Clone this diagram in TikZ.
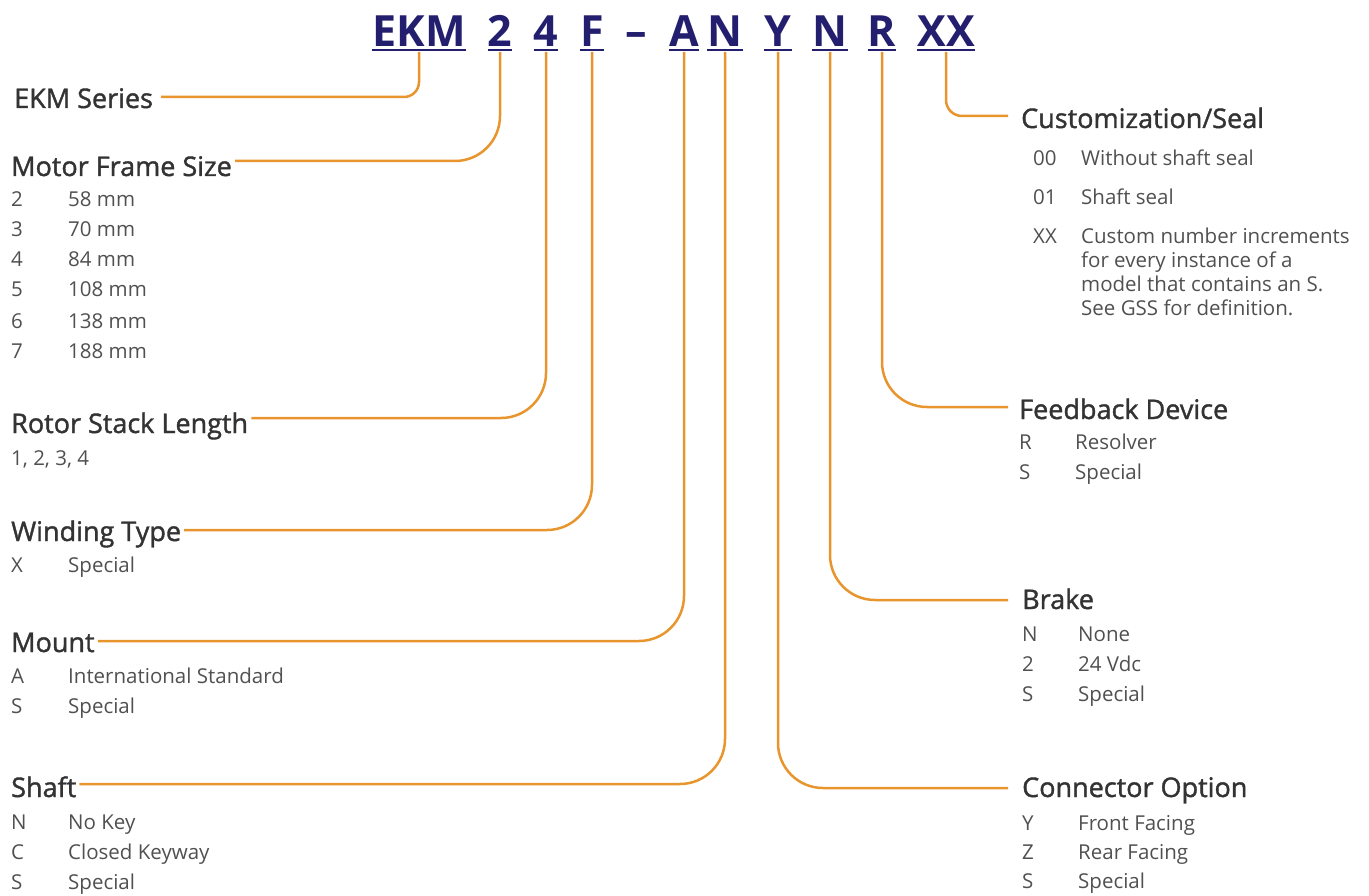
\documentclass[tikz,border=0pt]{standalone}
\usepackage{fontspec}
\setmainfont{Open Sans}
\newfontfamily\headfont[FakeBold=1.4]{Open Sans}
\definecolor{codeblue}{RGB}{35,31,110}
\definecolor{leadorange}{RGB}{232,149,46}
\definecolor{headgray}{RGB}{51,51,51}
\definecolor{itemgray}{RGB}{80,80,80}
\tikzset{
  code/.style={inner sep=0pt, anchor=base, text=codeblue,
    font=\fontsize{43}{43}\selectfont\bfseries},
  uline/.style={draw=codeblue, line width=2.5pt},
  head/.style={inner sep=0pt, anchor=base west, text=headgray,
    font=\fontsize{27}{27}\selectfont\headfont},
  item/.style={inner sep=0pt, anchor=base west, text=itemgray,
    font=\fontsize{20.5}{20.5}\selectfont},
  lead/.style={draw=leadorange, line width=2.5pt, rounded corners=45pt},
}

\begin{document}
\begin{tikzpicture}[x=1pt,y=-1pt]
\useasboundingbox (0,0) rectangle (1369,896);
% Code letters
\node[code] (cEKM) at (419,47) {EKM};
\node[code] (cTwo) at (500,47) {2};
\node[code] (cFour) at (546,47) {4};
\node[code] (cF) at (592,47) {F};
\node[code] (cDash) at (636,47) {–};
\node[code] (cA) at (684,47) {A};
\node[code] (cN) at (725,47) {N};
\node[code] (cY) at (778,47) {Y};
\node[code] (cNb) at (830,47) {N};
\node[code] (cR) at (882,47) {R};
\node[code] (cXX) at (946,47) {XX};
% Underlines
\draw[uline] ([yshift=-3pt]cEKM.base west) -- ([yshift=-3pt]cEKM.base east);
\draw[uline] ([yshift=-3pt]cTwo.base west) -- ([yshift=-3pt]cTwo.base east);
\draw[uline] ([yshift=-3pt]cFour.base west) -- ([yshift=-3pt]cFour.base east);
\draw[uline] ([yshift=-3pt]cF.base west) -- ([yshift=-3pt]cF.base east);
\draw[uline] ([yshift=-3pt]cA.base west) -- ([yshift=-3pt]cA.base east);
\draw[uline] ([yshift=-3pt]cN.base west) -- ([yshift=-3pt]cN.base east);
\draw[uline] ([yshift=-3pt]cY.base west) -- ([yshift=-3pt]cY.base east);
\draw[uline] ([yshift=-3pt]cNb.base west) -- ([yshift=-3pt]cNb.base east);
\draw[uline] ([yshift=-3pt]cR.base west) -- ([yshift=-3pt]cR.base east);
\draw[uline] ([yshift=-3pt]cXX.base west) -- ([yshift=-3pt]cXX.base east);

% Left headings
\node[head] (hSeries) at (14,108) {EKM Series};
\node[head] (hFrame) at (11,176) {Motor Frame Size};
\node[head] (hStack) at (11,433) {Rotor Stack Length};
\node[head] (hWinding) at (11,541) {Winding Type};
\node[head] (hMount) at (11,652) {Mount};
\node[head] (hShaft) at (11,797) {Shaft};
% Right headings
\node[head] (hSeal) at (1021,128) {Customization/Seal};
\node[head] (hFeedback) at (1019,419) {Feedback Device};
\node[head] (hBrake) at (1022,609) {Brake};
\node[head] (hConnector) at (1022,797) {Connector Option};

% Motor frame size
\node[item] (f2) at (11,207) {2};   \node[item] (f2t) at (68,207) {58 mm};
\node[item] (f3) at (11,237) {3};   \node[item] (f3t) at (68,237) {70 mm};
\node[item] (f4) at (11,267) {4};   \node[item] (f4t) at (68,267) {84 mm};
\node[item] (f5) at (11,297) {5};   \node[item] (f5t) at (68,297) {108 mm};
\node[item] (f6) at (11,328) {6};   \node[item] (f6t) at (68,328) {138 mm};
\node[item] (f7) at (11,358) {7};   \node[item] (f7t) at (68,358) {188 mm};
% Rotor stack length
\node[item] (s1) at (11,465) {1, 2, 3, 4};
% Winding type
\node[item] (wX) at (11,572) {X};   \node[item] (wXt) at (68,572) {Special};
% Mount
\node[item] (mA) at (11,683) {A};   \node[item] (mAt) at (68,683) {International Standard};
\node[item] (mS) at (11,713) {S};   \node[item] (mSt) at (68,713) {Special};
% Shaft
\node[item] (sN) at (11,829) {N};   \node[item] (sNt) at (68,829) {No Key};
\node[item] (sC) at (11,859) {C};   \node[item] (sCt) at (68,859) {Closed Keyway};
\node[item] (sS) at (11,889) {S};   \node[item] (sSt) at (68,889) {Special};

% Customization/seal
\node[item] (z0) at (1033,166) {00};  \node[item] (z0t) at (1081,166) {Without shaft seal};
\node[item] (z1) at (1033,205) {01};  \node[item] (z1t) at (1081,205) {Shaft seal};
\node[item] (zX) at (1033,244) {XX};  \node[item] (zXa) at (1081,244) {Custom number increments};
\node[item] (zXb) at (1081,268) {for every instance of a};
\node[item] (zXc) at (1081,292) {model that contains an S.};
\node[item] (zXd) at (1081,316) {See GSS for definition.};
% Feedback device
\node[item] (dR) at (1019,449) {R};   \node[item] (dRt) at (1075,449) {Resolver};
\node[item] (dS) at (1019,479) {S};   \node[item] (dSt) at (1075,479) {Special};
% Brake
\node[item] (bN) at (1022,641) {N};   \node[item] (bNt) at (1078,641) {None};
\node[item] (b2) at (1022,671) {2};   \node[item] (b2t) at (1078,671) {24 Vdc};
\node[item] (bS) at (1022,701) {S};   \node[item] (bSt) at (1078,701) {Special};
% Connector option
\node[item] (oY) at (1022,830) {Y};   \node[item] (oYt) at (1078,830) {Front Facing};
\node[item] (oZ) at (1022,859) {Z};   \node[item] (oZt) at (1078,859) {Rear Facing};
\node[item] (oS) at (1022,888) {S};   \node[item] (oSt) at (1078,888) {Special};

% Leaders
\draw[lead, rounded corners=15pt] ([yshift=-5pt]cEKM.base) |- ([xshift=8pt,yshift=11pt]hSeries.base east);
\draw[lead] ([yshift=-5pt]cTwo.base) |- ([xshift=3pt,yshift=15pt]hFrame.base east);
\draw[lead] ([yshift=-5pt]cFour.base) |- ([xshift=3pt,yshift=15pt]hStack.base east);
\draw[lead] ([yshift=-5pt]cF.base) |- ([xshift=3pt,yshift=11pt]hWinding.base east);
\draw[lead] ([yshift=-5pt]cA.base) |- ([xshift=3pt,yshift=11pt]hMount.base east);
\draw[lead] ([yshift=-5pt]cN.base) |- ([xshift=3pt,yshift=13pt]hShaft.base east);
\draw[lead] ([yshift=-5pt]cY.base) |- ([xshift=-14pt,yshift=9pt]hConnector.base west);
\draw[lead] ([yshift=-5pt]cNb.base) |- ([xshift=-14pt,yshift=9pt]hBrake.base west);
\draw[lead] ([yshift=-5pt]cR.base) |- ([xshift=-11pt,yshift=12pt]hFeedback.base west);
\draw[lead, rounded corners=16pt] ([yshift=-5pt]cXX.base) |- ([xshift=-13pt,yshift=12pt]hSeal.base west);
\end{tikzpicture}
\end{document}
